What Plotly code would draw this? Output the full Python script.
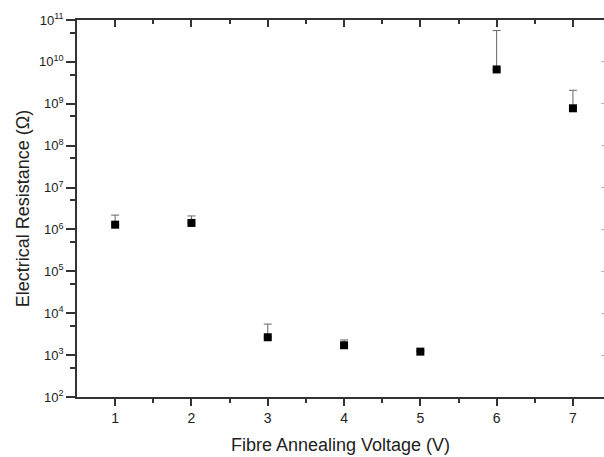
import plotly.graph_objects as go

# Data
voltage = [1, 2, 3, 4, 5, 6, 7]
resistance = [1.3e6, 1.43e6, 2.67e3, 1.72e3, 1.21e3, 6.6e9, 7.8e8]
err_upper = [2.2e6, 2.1e6, 5.5e3, 2.3e3, 1.3e3, 5.6e10, 2.1e9]
x_ticks = [1, 2, 3, 4, 5, 6, 7]
y_exponents = list(range(2, 12))
y_major = [10 ** k for k in y_exponents]
y_labels = ["10<sup>%d</sup>" % k for k in y_exponents]
y_minor = [5 * 10 ** k for k in range(2, 11)]
x_minor = [1.5, 2.5, 3.5, 4.5, 5.5, 6.5]

err_plus = [u - r for u, r in zip(err_upper, resistance)]
err_minus = [0 for _ in resistance]

FONT = "Liberation Sans, Arial, sans-serif"
AX = "#333333"
TXT = "#222222"
XR = [0.5, 7.407]
YR = [2, 11]

fig = go.Figure()
fig.add_trace(go.Scatter(
    x=voltage, y=resistance, mode="markers",
    marker=dict(symbol="square", size=8, color="black"),
    error_y=dict(type="data", symmetric=False, array=err_plus, arrayminus=err_minus,
                 color="#666666", thickness=1, width=4),
    showlegend=False, hoverinfo="skip",
))
# invisible trace so that the mirrored top/right axes are drawn
fig.add_trace(go.Scatter(
    x=voltage[:1], y=resistance[:1], xaxis="x2", yaxis="y2", mode="markers",
    marker=dict(opacity=0), showlegend=False, hoverinfo="skip",
))

fig.update_layout(
    width=604, height=457,
    margin=dict(l=77, r=0, t=20, b=60),
    paper_bgcolor="white", plot_bgcolor="white",
    font=dict(family=FONT, color=TXT),
    xaxis=dict(
        range=XR, tickmode="array", tickvals=x_ticks,
        ticks="outside", ticklen=7, tickwidth=1.5, tickcolor=AX,
        showline=True, linecolor=AX, linewidth=1.5,
        showgrid=False, zeroline=False,
        tickfont=dict(size=14, color=TXT),
        title=dict(text="Fibre Annealing Voltage (V)", font=dict(size=18, color=TXT), standoff=14),
        minor=dict(tickmode="array", tickvals=x_minor, ticks="outside", ticklen=4,
                   tickwidth=1.5, tickcolor=AX, showgrid=False),
    ),
    yaxis=dict(
        type="log", range=YR, tickmode="array", tickvals=y_major, ticktext=y_labels,
        ticks="outside", ticklen=9, tickwidth=1.5, tickcolor=AX,
        showline=True, linecolor=AX, linewidth=1.5,
        showgrid=False, zeroline=False,
        tickfont=dict(size=13, color=TXT),
        title=dict(text="Electrical Resistance (Ω)", font=dict(size=18, color=TXT), standoff=5),
        minor=dict(tickmode="array", tickvals=y_minor, ticks="outside", ticklen=5,
                   tickwidth=1.5, tickcolor=AX, showgrid=False),
    ),
    xaxis2=dict(
        overlaying="x", side="top", range=XR, tickmode="array", tickvals=x_ticks,
        ticks="inside", ticklen=7, tickwidth=1.5, tickcolor=AX,
        showline=True, linecolor=AX, linewidth=1.5, showticklabels=False,
        showgrid=False, zeroline=False,
        minor=dict(tickmode="array", tickvals=x_minor, ticks="inside", ticklen=4,
                   tickwidth=1.5, tickcolor=AX, showgrid=False),
    ),
    yaxis2=dict(
        overlaying="y", side="right", type="log", range=YR, tickmode="array", tickvals=y_major,
        ticks="inside", ticklen=3, tickwidth=1, tickcolor="#bbbbbb",
        showline=False, showticklabels=False, showgrid=False, zeroline=False,
    ),
)

fig.write_html("out.html")
